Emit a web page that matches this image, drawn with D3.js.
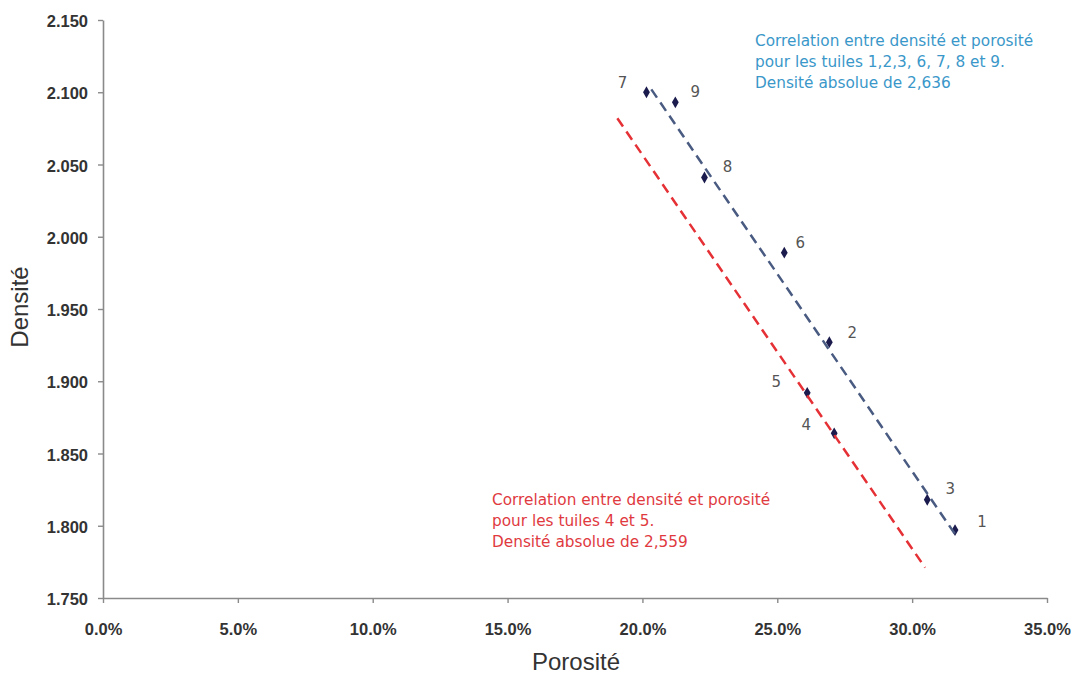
<!DOCTYPE html>
<html>
<head>
<meta charset="utf-8">
<script src="https://cdn.jsdelivr.net/npm/d3@7"></script>
<style>
  html, body { margin: 0; padding: 0; background: #fff; }
  svg { display: block; }
</style>
</head>
<body>
<div id="chart"></div>
<script>
// Tile samples: label, porosity (fraction), density
const tileIds   = ["1", "2", "3", "4", "5", "6", "7", "8", "9"];
const porosity  = [0.3159, 0.2693, 0.3056, 0.2711, 0.2611, 0.2526, 0.2015, 0.2230, 0.2122];
const density   = [1.797, 1.927, 1.818, 1.864, 1.892, 1.989, 2.100, 2.041, 2.093];

// Label offsets for each tile number (dx, dy in px)
const labelDx = [27, 23, 23, -28, -31, 16, -24, 23, 20];
const labelDy = [-8, -9, -10, -8, -10, -9, -9, -10, -10];

// Correlation lines (porosity, density endpoints)
const blueLineP = [0.2033, 0.3167];
const blueLineD = [2.102, 1.792];
const redLineP  = [0.1907, 0.3048];
const redLineD  = [2.082, 1.771];

// Axis ticks
const xTicks = [0, 0.05, 0.10, 0.15, 0.20, 0.25, 0.30, 0.35];
const yTicks = [1.75, 1.80, 1.85, 1.90, 1.95, 2.00, 2.05, 2.10, 2.15];

const blueNote = ["Correlation entre densité et porosité",
                  "pour les tuiles 1,2,3, 6, 7, 8 et 9.",
                  "Densité absolue de 2,636"];
const redNote  = ["Correlation entre densité et porosité",
                  "pour les tuiles 4 et 5.",
                  "Densité absolue de 2,559"];

const W = 1075, H = 674;
const margin = {left: 103, right: 28, top: 20, bottom: 76};

const svg = d3.select("#chart").append("svg")
  .attr("width", W).attr("height", H);

const x = d3.scaleLinear().domain([0, 0.35]).range([margin.left, W - margin.right]);
const y = d3.scaleLinear().domain([1.75, 2.15]).range([H - margin.bottom, margin.top]);

const axisColor = "#8a8a8a";
const tickFont = "'Liberation Sans', Arial, sans-serif";

// X axis
const gx = svg.append("g")
  .attr("transform", `translate(0,${y(1.75)})`)
  .call(d3.axisBottom(x).tickValues(xTicks).tickSize(5).tickSizeOuter(0)
    .tickFormat(d => (d * 100).toFixed(1) + "%"));
gx.select(".domain").attr("stroke", axisColor).attr("stroke-width", 1.6);
gx.selectAll(".tick line").attr("stroke", axisColor).attr("stroke-width", 1.4);
gx.selectAll(".tick text")
  .attr("y", 25)
  .attr("fill", "#333")
  .style("font-family", tickFont)
  .style("font-size", "16.5px")
  .style("font-weight", "bold");

// Y axis
const gy = svg.append("g")
  .attr("transform", `translate(${x(0)},0)`)
  .call(d3.axisLeft(y).tickValues(yTicks).tickSize(5).tickSizeOuter(0)
    .tickFormat(d3.format(".3f")));
gy.select(".domain").attr("stroke", axisColor).attr("stroke-width", 1.6);
gy.selectAll(".tick line").attr("stroke", axisColor).attr("stroke-width", 1.4);
gy.selectAll(".tick text")
  .attr("x", -15)
  .attr("dy", "0.4em")
  .attr("fill", "#333")
  .style("font-family", tickFont)
  .style("font-size", "16.5px")
  .style("font-weight", "bold");

// Axis titles
svg.append("text")
  .attr("x", 576).attr("y", 670)
  .attr("text-anchor", "middle")
  .attr("fill", "#333")
  .style("font-family", tickFont)
  .style("font-size", "24px")
  .text("Porosité");

svg.append("text")
  .attr("transform", `translate(28,307) rotate(-90)`)
  .attr("text-anchor", "middle")
  .attr("fill", "#333")
  .style("font-family", tickFont)
  .style("font-size", "24px")
  .text("Densité");

// Data markers (diamonds)
const pts = tileIds.map((id, i) => ({id, p: porosity[i], d: density[i], dx: labelDx[i], dy: labelDy[i]}));
svg.append("g").selectAll("path")
  .data(pts).join("path")
  .attr("transform", d => `translate(${x(d.p)},${y(d.d)})`)
  .attr("d", d3.symbol(d3.symbolDiamond, 40))
  .attr("fill", "#1b1b4d");

// Correlation lines
const line = d3.line().x(d => x(d[0])).y(d => y(d[1]));
svg.append("path")
  .datum(d3.zip(blueLineP, blueLineD))
  .attr("d", line)
  .attr("fill", "none")
  .attr("stroke", "#4a5b82")
  .attr("stroke-width", 2.5)
  .attr("stroke-dasharray", "10,6");
svg.append("path")
  .datum(d3.zip(redLineP, redLineD))
  .attr("d", line)
  .attr("fill", "none")
  .attr("stroke", "#e53136")
  .attr("stroke-width", 2.5)
  .attr("stroke-dasharray", "10,6");

// Tile number labels
svg.append("g").selectAll("text")
  .data(pts).join("text")
  .attr("x", d => x(d.p) + d.dx)
  .attr("y", d => y(d.d) + d.dy)
  .attr("text-anchor", "middle")
  .attr("dominant-baseline", "middle")
  .attr("fill", "#555")
  .style("font-family", "'DejaVu Sans', sans-serif")
  .style("font-size", "15px")
  .text(d => d.id);

// Annotation notes
function note(lines, x0, y0, color) {
  const t = svg.append("text")
    .attr("fill", color)
    .style("font-family", "'DejaVu Sans', sans-serif")
    .style("font-size", "15.3px");
  lines.forEach((s, i) => {
    t.append("tspan").attr("x", x0).attr("y", y0 + i * 21).text(s);
  });
}
note(blueNote, 755, 46, "#3a97c9");
note(redNote, 492, 505, "#e03a3f");
</script>
</body>
</html>
